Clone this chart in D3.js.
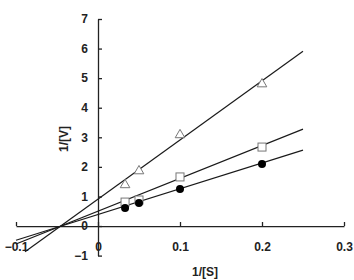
<!DOCTYPE html>
<html><head><meta charset="utf-8">
<script src="https://cdn.jsdelivr.net/npm/d3@7"></script>
<style>body{margin:0;background:#fff}</style>
</head><body>
<svg id="c" width="354" height="280"></svg>
<script>
const xTicks = [-0.1, 0, 0.1, 0.2, 0.3];
const yTicks = [-1, 0, 1, 2, 3, 4, 5, 6, 7];
const xVals = [0.033, 0.05, 0.1, 0.2];
const triVals = [1.39, 1.86, 3.08, 4.80];
const sqVals = [0.81, 0.88, 1.66, 2.67];
const cirVals = [0.61, 0.78, 1.25, 2.10];
// fitted line parameters: [slope, intercept, xStart, xEnd]
const triLine = [20.0, 0.91, -0.089, 0.25];
const sqLine = [11.1, 0.50, -0.1, 0.25];
const cirLine = [8.7, 0.39, -0.1, 0.25];

const svg = d3.select("#c");
const x = d3.scaleLinear().domain([-0.1, 0.3]).range([16, 344]);
const y = d3.scaleLinear().domain([-1, 7]).range([255.6, 19]);
const font = "'Liberation Sans', Arial, sans-serif";

const xAxis = svg.append("g").attr("transform", `translate(0,${y(0)})`)
  .call(d3.axisBottom(x).tickValues(xTicks).tickSizeInner(-4).tickSizeOuter(0).tickPadding(16)
    .tickFormat(d => d === 0 ? "0" : d3.format(".1f")(d)));
const yAxis = svg.append("g").attr("transform", `translate(${x(0)},0)`)
  .call(d3.axisLeft(y).tickValues(yTicks).tickSizeInner(-4).tickSizeOuter(0).tickPadding(10)
    .tickFormat(d3.format("d")));
[xAxis, yAxis].forEach(g => {
  g.selectAll("path,line").attr("stroke", "#222").attr("stroke-width", 1.3);
  g.selectAll("text").attr("font-family", font).attr("font-size", 12)
    .attr("font-weight", "bold").attr("fill", "#222");
});

const lines = [triLine, sqLine, cirLine];
svg.append("g").selectAll("line").data(lines).join("line")
  .attr("x1", d => x(d[2])).attr("y1", d => y(d[0] * d[2] + d[1]))
  .attr("x2", d => x(d[3])).attr("y2", d => y(d[0] * d[3] + d[1]))
  .attr("stroke", "#1a1a1a").attr("stroke-width", 1.2);

const tri = d3.symbol().type(d3.symbolTriangle).size(40);
svg.append("g").selectAll("path").data(xVals).join("path")
  .attr("d", tri).attr("transform", (d, i) => `translate(${x(d)},${y(triVals[i])})`)
  .attr("fill", "#fff").attr("stroke", "#777").attr("stroke-width", 1);
svg.append("g").selectAll("rect").data(xVals).join("rect")
  .attr("x", (d) => x(d) - 4).attr("y", (d, i) => y(sqVals[i]) - 4)
  .attr("width", 8).attr("height", 8)
  .attr("fill", "#fff").attr("stroke", "#777").attr("stroke-width", 1);
svg.append("g").selectAll("circle").data(xVals).join("circle")
  .attr("cx", d => x(d)).attr("cy", (d, i) => y(cirVals[i])).attr("r", 4)
  .attr("fill", "#000");

svg.append("text").attr("x", 205).attr("y", 276).attr("text-anchor", "middle")
  .attr("font-family", font).attr("font-size", 12).attr("font-weight", "bold").attr("fill", "#222")
  .text("1/[S]");
svg.append("text").attr("transform", "translate(68,139) rotate(-90)").attr("text-anchor", "middle")
  .attr("font-family", font).attr("font-size", 12).attr("font-weight", "bold").attr("fill", "#222")
  .text("1/[V]");
</script>
</body></html>
